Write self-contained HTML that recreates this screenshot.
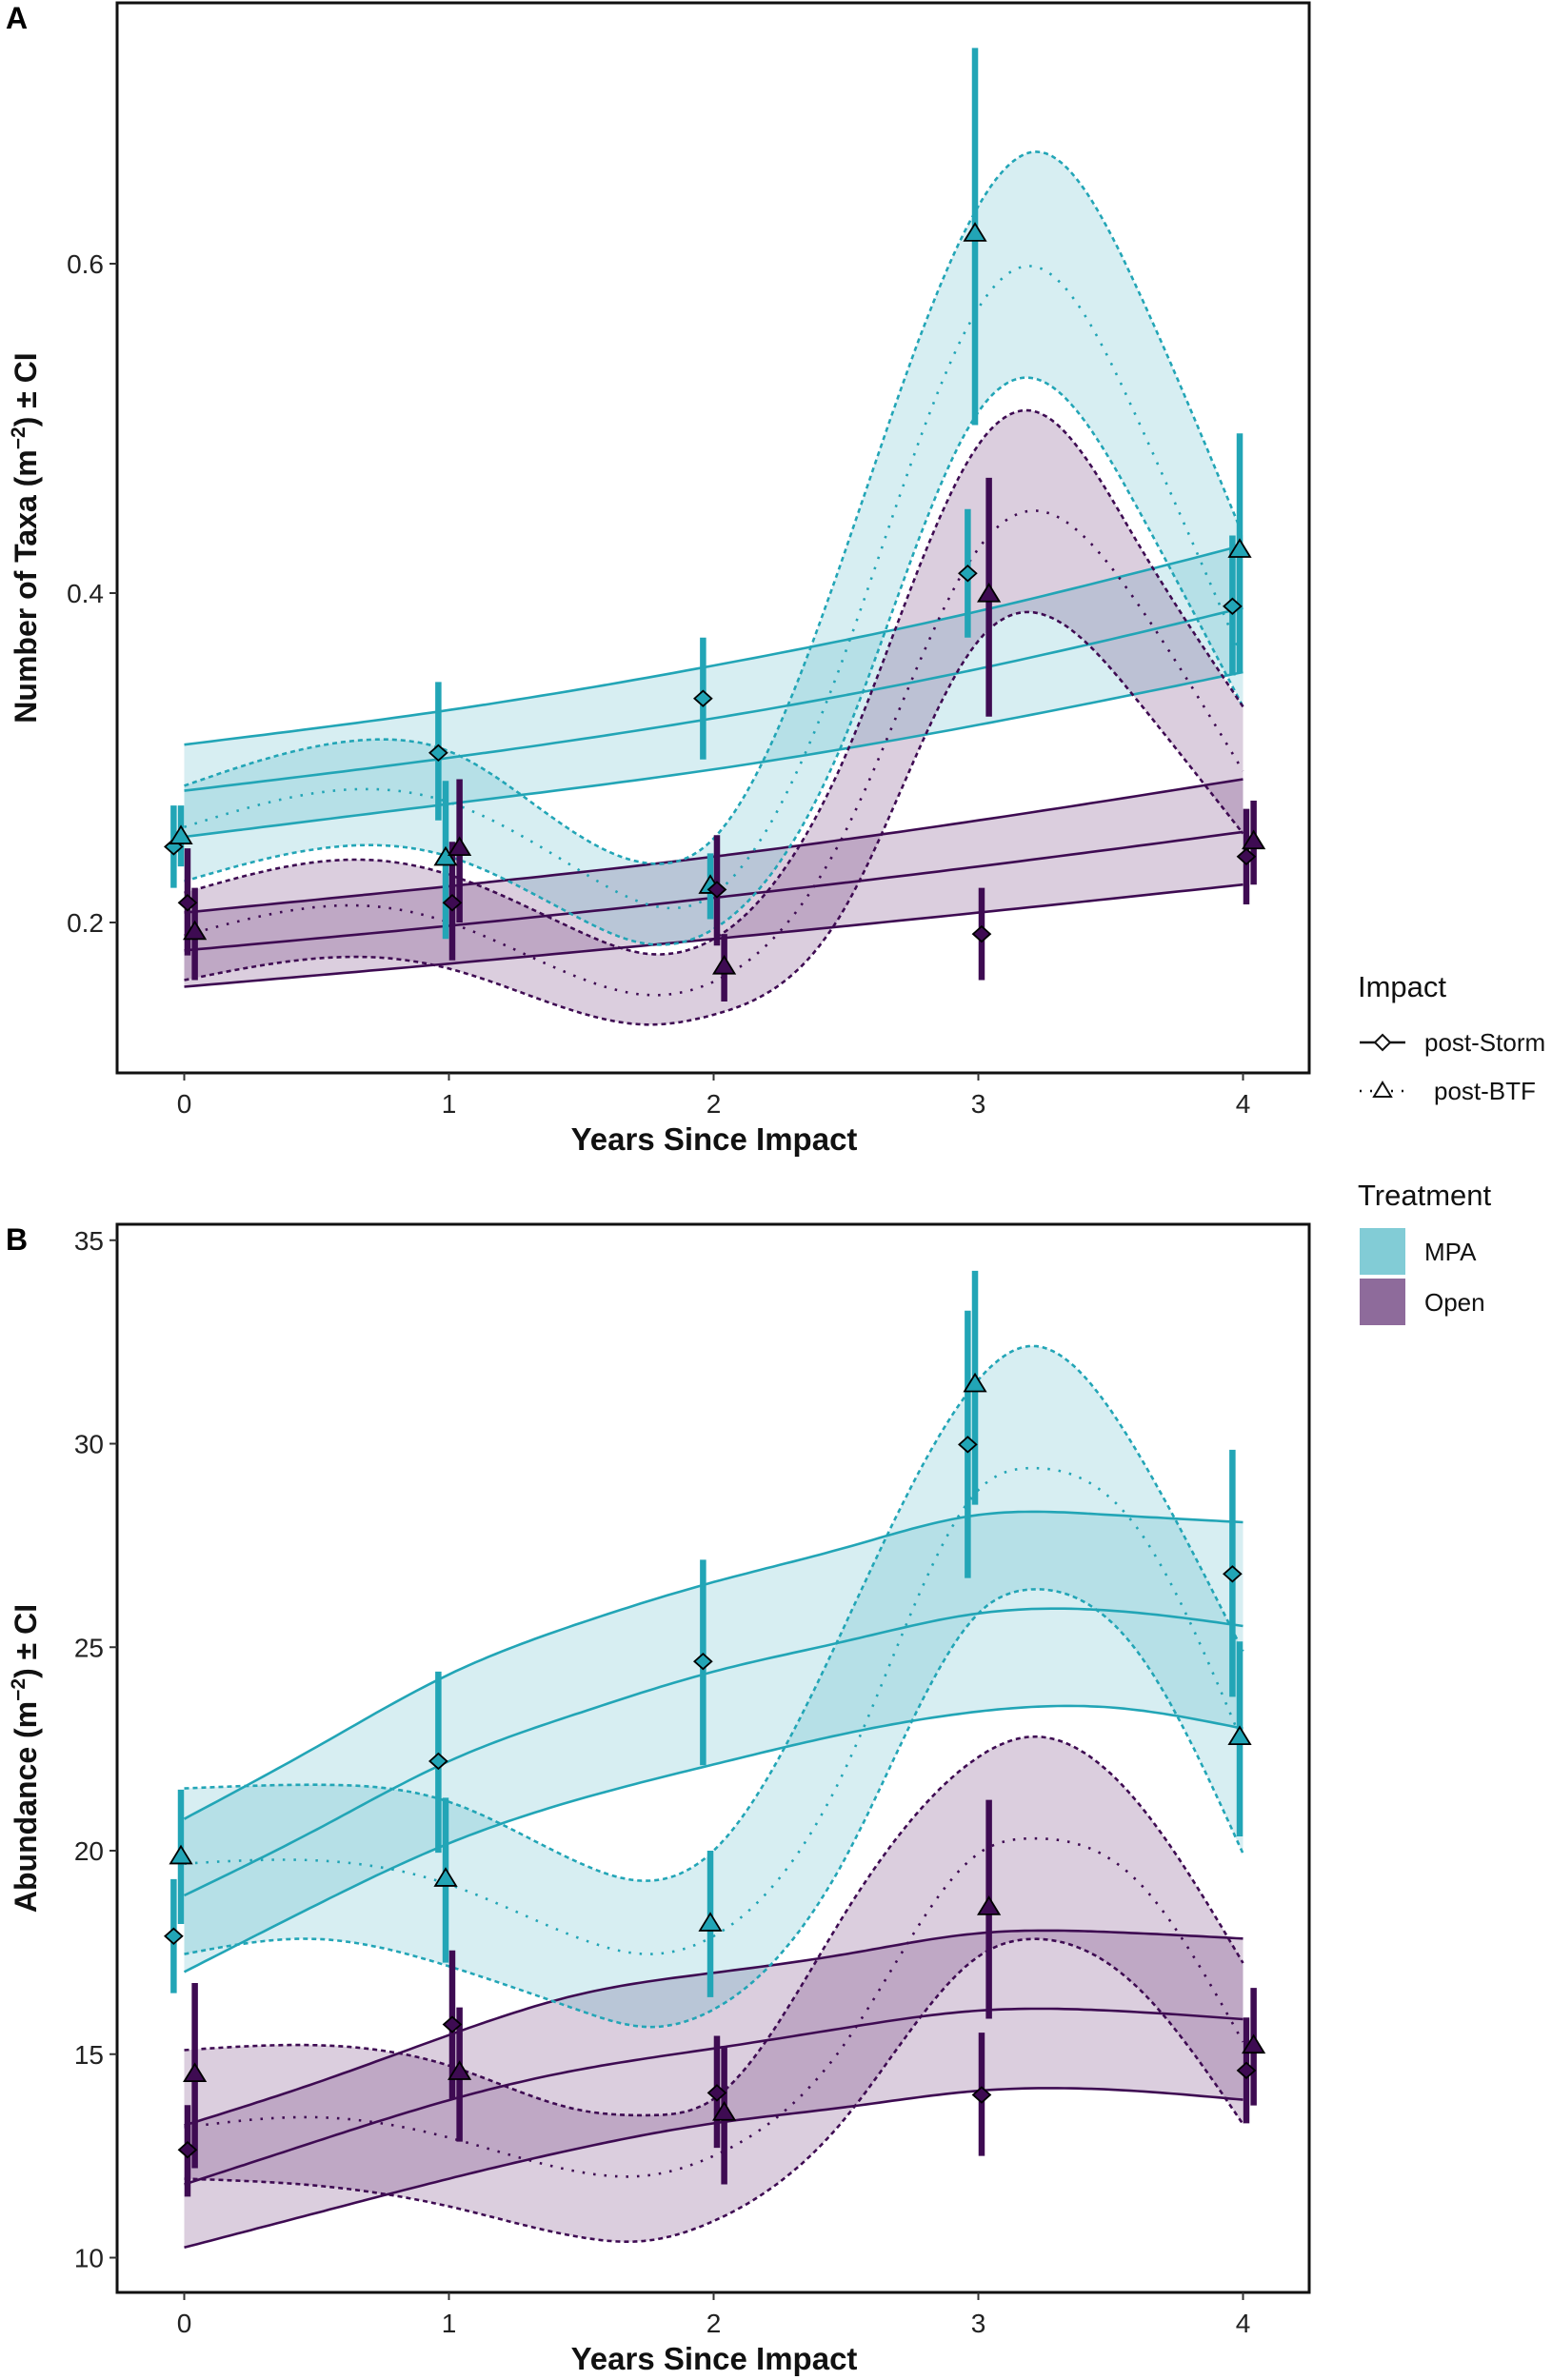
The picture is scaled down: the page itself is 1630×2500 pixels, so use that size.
<!DOCTYPE html>
<html><head><meta charset="utf-8">
<style>
html,body{margin:0;padding:0;background:#fff;}
svg{display:block;}
text{font-family:"Liberation Sans Narrow","Liberation Sans",sans-serif;}
.bold{font-family:"Liberation Sans",sans-serif;font-weight:bold;}
</style></head>
<body>
<svg id="fig" width="1630" height="2500" viewBox="0 0 1630 2500" xmlns="http://www.w3.org/2000/svg">
<rect x="0" y="0" width="1630" height="2500" fill="#fff"/>
<g id="panelA"></g>
<g id="panelB"></g>
<text class="bold" x="6" y="30" font-size="32">A</text>
<text class="bold" x="6" y="1313" font-size="32">B</text>
<g>
<text x="1426" y="1047" font-size="31" fill="#111">Impact</text>
<g>
<line x1="1428" y1="1095" x2="1476" y2="1095" stroke="#111" stroke-width="2.5"/>
<polygon points="1452,1087 1460,1095 1452,1103 1444,1095" fill="#fff" stroke="#111" stroke-width="2"/>
<text x="1496" y="1104" font-size="26" fill="#111">post-Storm</text>
</g>
<g>
<line x1="1428" y1="1146" x2="1476" y2="1146" stroke="#111" stroke-width="2.5" stroke-dasharray="2,9"/>
<polygon points="1452,1137 1461,1152 1443,1152" fill="#fff" stroke="#111" stroke-width="2"/>
<text x="1506" y="1155" font-size="26" fill="#111">post-BTF</text>
</g>
<text x="1426" y="1266" font-size="31" fill="#111">Treatment</text>
<g>
<rect x="1428" y="1290" width="48" height="49" fill="#82ccd6"/>
<text x="1496" y="1324" font-size="26" fill="#111">MPA</text>
</g>
<g>
<rect x="1428" y="1343" width="48" height="49" fill="#8e6b9b"/>
<text x="1496" y="1377" font-size="26" fill="#111">Open</text>
</g>
</g>
</svg>
<script>
// ---------------- Panel A data (Number of taxa) ----------------
const years = [0, 1, 2, 3, 4];
const xTicks = ["0", "1", "2", "3", "4"];
const aYTicks = [0.2, 0.4, 0.6];
const aYTickLabels = ["0.2", "0.4", "0.6"];
const aStormT = [0, 1, 2, 3, 4];
const aMpaStormUp = [0.308, 0.329, 0.356, 0.389, 0.429];
const aMpaStormMean = [0.280, 0.300, 0.324, 0.354, 0.391];
const aMpaStormLo = [0.252, 0.272, 0.293, 0.320, 0.352];
const aOpenStormUp = [0.206, 0.222, 0.240, 0.262, 0.287];
const aOpenStormMean = [0.183, 0.198, 0.215, 0.234, 0.255];
const aOpenStormLo = [0.161, 0.175, 0.190, 0.206, 0.223];
const aBtfT = [0, 0.7, 1, 1.5, 1.75, 2, 2.5, 3, 3.22, 3.6, 4];
const aMpaBtfUp = [0.283, 0.311, 0.304, 0.252, 0.236, 0.251, 0.427, 0.635, 0.668, 0.585, 0.435];
const aMpaBtfMean = [0.258, 0.281, 0.273, 0.231, 0.211, 0.217, 0.365, 0.573, 0.598, 0.506, 0.360];
const aMpaBtfLo = [0.225, 0.247, 0.240, 0.202, 0.187, 0.196, 0.314, 0.510, 0.530, 0.452, 0.331];
const aOpenBtfUp = [0.218, 0.238, 0.229, 0.194, 0.181, 0.190, 0.302, 0.490, 0.510, 0.431, 0.331];
const aOpenBtfMean = [0.192, 0.210, 0.200, 0.166, 0.156, 0.164, 0.256, 0.427, 0.450, 0.394, 0.292];
const aOpenBtfLo = [0.165, 0.179, 0.172, 0.145, 0.138, 0.144, 0.210, 0.371, 0.388, 0.335, 0.254];
const aMpaStormPts = [0.246, 0.303, 0.336, 0.412, 0.392];
const aMpaStormPtLo = [0.221, 0.262, 0.299, 0.373, 0.350];
const aMpaStormPtHi = [0.271, 0.346, 0.373, 0.451, 0.435];
const aMpaBtfPts = [0.252, 0.239, 0.222, 0.618, 0.426];
const aMpaBtfPtLo = [0.234, 0.190, 0.202, 0.502, 0.352];
const aMpaBtfPtHi = [0.271, 0.286, 0.242, 0.731, 0.497];
const aOpenStormPts = [0.212, 0.212, 0.220, 0.193, 0.240];
const aOpenStormPtLo = [0.180, 0.177, 0.186, 0.165, 0.211];
const aOpenStormPtHi = [0.245, 0.249, 0.253, 0.221, 0.269];
const aOpenBtfPts = [0.194, 0.245, 0.173, 0.399, 0.249];
const aOpenBtfPtLo = [0.165, 0.200, 0.152, 0.325, 0.223];
const aOpenBtfPtHi = [0.221, 0.287, 0.193, 0.470, 0.274];

// ---------------- Panel B data (Abundance) ----------------
const bYTicks = [10, 15, 20, 25, 30, 35];
const bYTickLabels = ["10", "15", "20", "25", "30", "35"];
const bStormT = [0, 0.5, 1, 1.5, 2, 2.5, 3, 3.5, 4];
const bMpaStormUp = [20.78, 22.55, 24.33, 25.6, 26.6, 27.45, 28.25, 28.25, 28.07];
const bMpaStormMean = [18.9, 20.52, 22.2, 23.4, 24.4, 25.15, 25.83, 25.9, 25.52];
const bMpaStormLo = [17.02, 18.67, 20.18, 21.28, 22.12, 22.88, 23.42, 23.52, 23.0];
const bOpenStormUp = [13.25, 14.3, 15.47, 16.48, 17.0, 17.46, 17.97, 18.0, 17.84];
const bOpenStormMean = [11.8, 12.86, 13.87, 14.63, 15.14, 15.65, 16.07, 16.07, 15.86];
const bOpenStormLo = [10.25, 11.1, 11.94, 12.7, 13.3, 13.7, 14.1, 14.13, 13.88];
const bBtfT = [0, 0.5, 1, 1.5, 1.75, 2, 2.5, 3, 3.2, 3.6, 4];
const bMpaBtfUp = [21.53, 21.62, 21.2, 19.68, 19.26, 20.0, 25.6, 31.57, 32.4, 29.8, 24.9];
const bMpaBtfMean = [19.68, 19.76, 19.17, 17.83, 17.46, 17.9, 22.05, 28.86, 29.4, 27.93, 22.63];
const bMpaBtfLo = [17.46, 17.83, 17.16, 16.06, 15.67, 16.1, 19.85, 25.83, 26.42, 24.9, 19.93];
const bOpenBtfUp = [15.1, 15.22, 14.72, 13.62, 13.5, 13.9, 18.5, 22.3, 22.8, 21.2, 17.24];
const bOpenBtfMean = [13.2, 13.45, 12.95, 12.1, 12.02, 12.5, 15.3, 19.93, 20.3, 19.26, 15.3];
const bOpenBtfLo = [11.94, 11.77, 11.26, 10.5, 10.42, 10.9, 13.45, 17.4, 17.83, 16.65, 13.28];
const bMpaStormPts = [17.9, 22.2, 24.65, 29.98, 26.8];
const bMpaStormPtLo = [16.5, 19.95, 22.1, 26.7, 23.78];
const bMpaStormPtHi = [19.3, 24.4, 27.15, 33.27, 29.85];
const bMpaBtfPts = [19.85, 19.3, 18.2, 31.45, 22.78];
const bMpaBtfPtLo = [18.2, 17.25, 16.4, 28.5, 20.35];
const bMpaBtfPtHi = [21.5, 21.3, 20.0, 34.25, 25.14];
const bOpenStormPts = [12.65, 15.73, 14.05, 14.0, 14.6];
const bOpenStormPtLo = [11.5, 13.9, 12.7, 12.5, 13.3];
const bOpenStormPtHi = [13.75, 17.55, 15.45, 15.53, 15.9];
const bOpenBtfPts = [14.5, 14.55, 13.55, 18.6, 15.2];
const bOpenBtfPtLo = [12.2, 12.85, 11.8, 15.87, 13.74];
const bOpenBtfPtHi = [16.75, 16.15, 15.2, 21.25, 16.63];

const TEAL = "#22a5b6", PURPLE = "#3e0b52";
const TEAL_FILL = "rgba(40,165,185,0.19)", PURPLE_FILL = "rgba(105,50,115,0.24)";
const NS = "http://www.w3.org/2000/svg";

function mk(tag, attrs, parent) {
  const e = document.createElementNS(NS, tag);
  for (const k in attrs) e.setAttribute(k, attrs[k]);
  parent.appendChild(e);
  return e;
}
// natural cubic spline through (t, v), sampled densely
function splinePts(ts, vs, sx, sy) {
  const n = ts.length;
  const h = [], al = [0], l = [1], mu = [0], z = [0], c = new Array(n).fill(0), b = [], d = [];
  for (let i = 0; i < n - 1; i++) h.push(ts[i + 1] - ts[i]);
  for (let i = 1; i < n - 1; i++) al.push(3 / h[i] * (vs[i + 1] - vs[i]) - 3 / h[i - 1] * (vs[i] - vs[i - 1]));
  for (let i = 1; i < n - 1; i++) {
    l[i] = 2 * (ts[i + 1] - ts[i - 1]) - h[i - 1] * mu[i - 1];
    mu[i] = h[i] / l[i];
    z[i] = (al[i] - h[i - 1] * z[i - 1]) / l[i];
  }
  for (let j = n - 2; j >= 0; j--) {
    c[j] = (j === 0 ? 0 : z[j]) - (j === 0 ? 0 : mu[j]) * c[j + 1];
    b[j] = (vs[j + 1] - vs[j]) / h[j] - h[j] * (c[j + 1] + 2 * c[j]) / 3;
    d[j] = (c[j + 1] - c[j]) / (3 * h[j]);
  }
  const out = [];
  for (let i = 0; i < n - 1; i++) {
    for (let s = 0; s < 20; s++) {
      const dt = h[i] * s / 20;
      const v = vs[i] + b[i] * dt + c[i] * dt * dt + d[i] * dt * dt * dt;
      out.push([sx(ts[i] + dt), sy(v)]);
    }
  }
  out.push([sx(ts[n - 1]), sy(vs[n - 1])]);
  return out;
}
function toD(pts) { return pts.map((q, i) => (i ? "L" : "M") + q[0].toFixed(1) + "," + q[1].toFixed(1)).join(""); }

function drawPanel(g, cfg) {
  const sx = t => cfg.x0 + cfg.dx * t;
  const sy = v => cfg.yBase - (v - cfg.vBase) * cfg.ppu;
  cfg.bands.forEach(b => {
    const up = splinePts(b.t, b.up, sx, sy), lo = splinePts(b.t, b.lo, sx, sy).reverse();
    const poly = mk("path", { d: toD(up.concat(lo)) + "Z", fill: b.fill, stroke: "none" }, g);
    
    
  });
  cfg.bands.forEach(b => {
    [["up", b.up, b.boundDash], ["mean", b.mean, b.meanDash], ["lo", b.lo, b.boundDash]].forEach(a => {
      const l = mk("path", { d: toD(splinePts(b.t, a[1], sx, sy)), fill: "none", stroke: b.color, "stroke-width": 2.6 }, g);
      if (a[2]) l.setAttribute("stroke-dasharray", a[2]);
      
      
    });
  });
  cfg.series.forEach(s => {
    years.forEach((yr, i) => {
      const x = sx(yr + s.off);
      const bar = mk("line", { x1: x, x2: x, y1: sy(s.lo[i]), y2: sy(s.hi[i]), stroke: s.color, "stroke-width": 6.5 }, g);
      
      
    });
  });
  cfg.series.forEach(s => {
    years.forEach((yr, i) => {
      const x = sx(yr + s.off), y = sy(s.v[i]);
      let pts;
      if (s.shape === "diamond") pts = [[x, y - 8], [x + 9, y], [x, y + 8], [x - 9, y]];
      else pts = [[x, y - 11], [x + 11, y + 7], [x - 11, y + 7]];
      const m = mk("polygon", { points: pts.map(q => q.join(",")).join(" "), fill: s.color, stroke: "#000", "stroke-width": 1.8 }, g);
      
      
    });
  });
  const fr = mk("rect", { x: cfg.left, y: cfg.top, width: cfg.right - cfg.left, height: cfg.bottom - cfg.top, fill: "none", stroke: "#111", "stroke-width": 3 }, g);
  
  
  years.forEach((yr, i) => {
    const x = sx(yr);
    const tk = mk("line", { x1: x, x2: x, y1: cfg.bottom, y2: cfg.bottom + 8, stroke: "#333", "stroke-width": 2 }, g);
    
    
    const tl = mk("text", { x: x, y: cfg.bottom + 42, "text-anchor": "middle", "font-size": 28, fill: "#222" }, g);
    tl.textContent = xTicks[i];
    
    
  });
  cfg.yTicks.forEach((v, i) => {
    const y = sy(v);
    const tk = mk("line", { x1: cfg.left - 8, x2: cfg.left, y1: y, y2: y, stroke: "#333", "stroke-width": 2 }, g);
    
    
    const tl = mk("text", { x: cfg.left - 14, y: y + 10, "text-anchor": "end", "font-size": 28, fill: "#222" }, g);
    tl.textContent = cfg.yLabels[i];
    
    
  });
  const xt = mk("text", { x: 750, y: cfg.bottom + 81, "text-anchor": "middle", "font-size": 33, class: "bold", fill: "#111" }, g);
  xt.textContent = "Years Since Impact";
  
  
  const cy = (cfg.top + cfg.bottom) / 2 + cfg.titleShift;
  const yt = mk("text", { x: 0, y: 0, "text-anchor": "middle", "font-size": 32, class: "bold", fill: "#111", transform: "translate(38," + cy + ") rotate(-90)" }, g);
  yt.innerHTML = cfg.yTitle;
  
  
}

const common = { x0: 193.5, dx: 278, left: 123, right: 1375 };
drawPanel(document.getElementById("panelA"), Object.assign({}, common, {
  top: 3, bottom: 1127, yBase: 969, vBase: 0.2, ppu: 1730, titleShift: 0,
  yTicks: aYTicks, yLabels: aYTickLabels,
  yTitle: 'Number of Taxa (m<tspan dy="-12" font-size="21">−2</tspan><tspan dy="12">) ± CI</tspan>',
  bands: [
    { name: "mpa-storm", t: aStormT, up: aMpaStormUp, mean: aMpaStormMean, lo: aMpaStormLo, color: TEAL, fill: TEAL_FILL, boundDash: null, meanDash: null },
    { name: "open-storm", t: aStormT, up: aOpenStormUp, mean: aOpenStormMean, lo: aOpenStormLo, color: PURPLE, fill: PURPLE_FILL, boundDash: null, meanDash: null },
    { name: "mpa-btf", t: aBtfT, up: aMpaBtfUp, mean: aMpaBtfMean, lo: aMpaBtfLo, color: TEAL, fill: TEAL_FILL, boundDash: "5,4", meanDash: "2.5,9" },
    { name: "open-btf", t: aBtfT, up: aOpenBtfUp, mean: aOpenBtfMean, lo: aOpenBtfLo, color: PURPLE, fill: PURPLE_FILL, boundDash: "5,4", meanDash: "2.5,9" }
  ],
  series: [
    { name: "mpa-storm", v: aMpaStormPts, lo: aMpaStormPtLo, hi: aMpaStormPtHi, color: TEAL, shape: "diamond", off: -0.04 },
    { name: "mpa-btf", v: aMpaBtfPts, lo: aMpaBtfPtLo, hi: aMpaBtfPtHi, color: TEAL, shape: "triangle", off: -0.0125 },
    { name: "open-storm", v: aOpenStormPts, lo: aOpenStormPtLo, hi: aOpenStormPtHi, color: PURPLE, shape: "diamond", off: 0.0125 },
    { name: "open-btf", v: aOpenBtfPts, lo: aOpenBtfPtLo, hi: aOpenBtfPtHi, color: PURPLE, shape: "triangle", off: 0.04 }
  ]
}));
drawPanel(document.getElementById("panelB"), Object.assign({}, common, {
  top: 1286, bottom: 2408, yBase: 2371.5, vBase: 10, ppu: 42.75, titleShift: 0,
  yTicks: bYTicks, yLabels: bYTickLabels,
  yTitle: 'Abundance (m<tspan dy="-12" font-size="21">−2</tspan><tspan dy="12">) ± CI</tspan>',
  bands: [
    { name: "mpa-storm", t: bStormT, up: bMpaStormUp, mean: bMpaStormMean, lo: bMpaStormLo, color: TEAL, fill: TEAL_FILL, boundDash: null, meanDash: null },
    { name: "open-storm", t: bStormT, up: bOpenStormUp, mean: bOpenStormMean, lo: bOpenStormLo, color: PURPLE, fill: PURPLE_FILL, boundDash: null, meanDash: null },
    { name: "mpa-btf", t: bBtfT, up: bMpaBtfUp, mean: bMpaBtfMean, lo: bMpaBtfLo, color: TEAL, fill: TEAL_FILL, boundDash: "5,4", meanDash: "2.5,9" },
    { name: "open-btf", t: bBtfT, up: bOpenBtfUp, mean: bOpenBtfMean, lo: bOpenBtfLo, color: PURPLE, fill: PURPLE_FILL, boundDash: "5,4", meanDash: "2.5,9" }
  ],
  series: [
    { name: "mpa-storm", v: bMpaStormPts, lo: bMpaStormPtLo, hi: bMpaStormPtHi, color: TEAL, shape: "diamond", off: -0.04 },
    { name: "mpa-btf", v: bMpaBtfPts, lo: bMpaBtfPtLo, hi: bMpaBtfPtHi, color: TEAL, shape: "triangle", off: -0.0125 },
    { name: "open-storm", v: bOpenStormPts, lo: bOpenStormPtLo, hi: bOpenStormPtHi, color: PURPLE, shape: "diamond", off: 0.0125 },
    { name: "open-btf", v: bOpenBtfPts, lo: bOpenBtfPtLo, hi: bOpenBtfPtHi, color: PURPLE, shape: "triangle", off: 0.04 }
  ]
}));
</script>
</body></html>
